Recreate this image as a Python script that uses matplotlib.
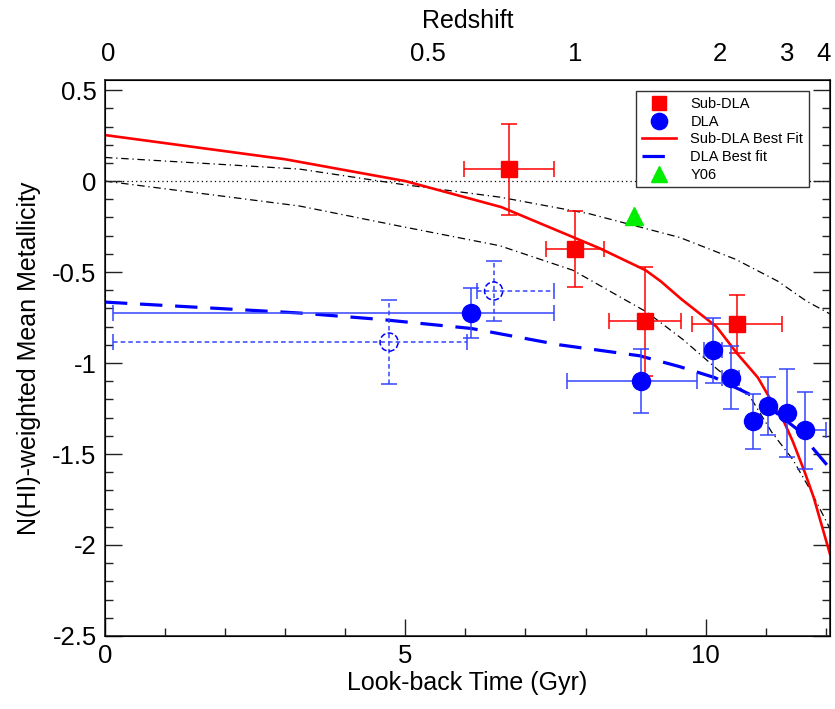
import matplotlib
matplotlib.use("Agg")
import matplotlib.pyplot as plt
from matplotlib.ticker import MultipleLocator, FuncFormatter

plt.rcParams['font.family'] = ['Liberation Sans', 'DejaVu Sans']
plt.rcParams['axes.unicode_minus'] = False

# Sub-DLA measurements (look-back time in Gyr, metallicity)
subdla_t = [6.72, 7.82, 8.99, 10.52]
subdla_z = [0.066, -0.374, -0.77, -0.786]
subdla_terr = [0.75, 0.48, 0.60, 0.75]
subdla_zerr = [0.25, 0.21, 0.30, 0.16]

# DLA measurements (solid symbols), asymmetric time errors
dla_t = [6.09, 8.92, 10.13, 10.42, 10.78, 11.03, 11.36, 11.66]
dla_z = [-0.725, -1.10, -0.93, -1.08, -1.32, -1.235, -1.275, -1.37]
dla_terr_lo = [5.96, 1.22, 0.15, 0.15, 0.0, 0.0, 0.0, 0.0]
dla_terr_hi = [1.38, 0.93, 0.15, 0.14, 0.0, 0.0, 0.0, 0.35]
dla_zerr = [0.14, 0.175, 0.18, 0.175, 0.15, 0.16, 0.24, 0.21]

# DLA measurements at low redshift (open, dashed symbols)
dla_low_t = [4.73, 6.47]
dla_low_z = [-0.885, -0.604]
dla_low_terr_lo = [4.60, 0.28]
dla_low_terr_hi = [1.29, 1.00]
dla_low_zerr = [0.23, 0.165]

# Y06 point
y06_t = [8.80]
y06_z = [-0.19]

# best fit curves
subdla_fit_t = [0, 3.0, 5.0, 6.6, 8.24, 9.0, 9.25, 9.6, 10.18, 10.53, 10.87,
                11.15, 11.3, 11.45, 11.65, 11.8, 12.07]
subdla_fit_z = [0.253, 0.12, 0.0, -0.143, -0.37, -0.49, -0.55, -0.65, -0.80,
                -0.95, -1.08, -1.24, -1.32, -1.43, -1.60, -1.74, -2.05]
dla_fit_t = [0, 3.24, 4.58, 6.1, 7.57, 8.9, 9.57, 10.15, 10.85, 11.51, 12.07]
dla_fit_z = [-0.665, -0.725, -0.76, -0.81, -0.90, -0.96, -1.02, -1.08, -1.19,
             -1.36, -1.58]

# model envelopes (dash-dot)
upper_t = [0, 3.24, 4.9, 6.57, 8.07, 9.57, 10.5, 11.2, 11.68, 12.07]
upper_z = [0.13, 0.066, -0.016, -0.088, -0.18, -0.31, -0.43, -0.55, -0.66, -0.73]
lower_t = [0, 3.24, 4.9, 6.57, 7.79, 9.02, 9.62, 10.18, 10.73, 11.1, 11.45,
           11.73, 12.07]
lower_z = [0, -0.137, -0.247, -0.355, -0.49, -0.72, -0.87, -1.03, -1.18, -1.38,
           -1.53, -1.69, -1.91]
solar_level = 0.0

# top axis: redshift labels at their look-back times
z_labels = ['0', '0.5', '1', '2', '3', '4']
z_pos = [0.05, 5.37, 7.82, 10.23, 11.35, 11.96]

fig = plt.figure(figsize=(8.35, 7.09), dpi=100)
ax = fig.add_axes([0.1257, 0.103, 0.8683, 0.784])

red = '#ff0000'
blue = '#0000ff'
eb_blue = '#3344ff'

ax.axhline(solar_level, color='black', lw=0.9, ls=(0, (1, 2.5)), zorder=1)
ax.plot(upper_t, upper_z, color='black', lw=0.9, ls=(0, (6, 3, 1, 3)), zorder=1)
ax.plot(lower_t, lower_z, color='black', lw=0.9, ls=(0, (6, 3, 1, 3)), zorder=1)

fit_sub, = ax.plot(subdla_fit_t, subdla_fit_z, color=red, lw=1.9, zorder=2,
                   label='Sub-DLA Best Fit')
fit_dla, = ax.plot(dla_fit_t, dla_fit_z, color=blue, lw=2.3, ls=(0, (7, 4)),
                   zorder=2, label='DLA Best fit')

# error bars
ax.errorbar(subdla_t, subdla_z, xerr=subdla_terr, yerr=subdla_zerr, fmt='none',
            ecolor=red, elinewidth=1.1, capsize=6, capthick=1.1, zorder=3)
ax.errorbar(dla_t, dla_z, xerr=[dla_terr_lo, dla_terr_hi], yerr=dla_zerr,
            fmt='none', ecolor=eb_blue, elinewidth=1.1, capsize=6, capthick=1.1,
            zorder=3)
eb = ax.errorbar(dla_low_t, dla_low_z, xerr=[dla_low_terr_lo, dla_low_terr_hi],
                 yerr=dla_low_zerr, fmt='none', ecolor=eb_blue, elinewidth=1.1,
                 capsize=6, capthick=1.1, zorder=3)
for lc in eb[2]:
    lc.set_linestyle((0, (3, 2)))

# markers
h_sub, = ax.plot(subdla_t, subdla_z, 's', color=red, ms=11.5, zorder=4,
                 label='Sub-DLA')
h_dla, = ax.plot(dla_t, dla_z, 'o', color=blue, ms=13, zorder=4, label='DLA')
ax.scatter(dla_low_t, dla_low_z, s=170, facecolors='none', edgecolors=blue,
           linewidths=1.1, linestyles='--', zorder=4)
h_y06, = ax.plot(y06_t, y06_z, '^', color='#00ee00', ms=13, zorder=4,
                 label='Y06')

ax.set_xlim(0, 12.07)
ax.set_ylim(-2.5, 0.555)
ax.xaxis.set_major_locator(MultipleLocator(5))
ax.xaxis.set_minor_locator(MultipleLocator(1))
ax.yaxis.set_major_locator(MultipleLocator(0.5))
ax.yaxis.set_minor_locator(MultipleLocator(0.1))
ax.yaxis.set_major_formatter(FuncFormatter(lambda v, p: '%g' % v))
ax.tick_params(which='both', direction='in', top=False, right=True,
               labelsize=18.5, color='#222222')
ax.tick_params(which='major', length=12, width=1.0, pad=6)
ax.tick_params(which='minor', length=6, width=1.0)
for s in ax.spines.values():
    s.set_linewidth(1.2)
    s.set_color('#222222')

ax.set_xlabel('Look-back Time (Gyr)', fontsize=18, labelpad=2)
ax.set_ylabel('N(HI)-weighted Mean Metallicity', fontsize=18, labelpad=8)

top = ax.twiny()
top.set_xlim(ax.get_xlim())
top.set_xticks(z_pos)
top.set_xticklabels(z_labels)
top.tick_params(axis='x', length=0, labelsize=18.5, pad=10)
top.set_xlabel('Redshift', fontsize=18, labelpad=10)

leg = ax.legend(handles=[h_sub, h_dla, fit_sub, fit_dla, h_y06],
                loc='upper right', bbox_to_anchor=(0.971, 0.98),
                borderaxespad=0, fontsize=10.5, frameon=True, fancybox=False,
                framealpha=1, edgecolor='#333333', handlelength=2.3,
                handletextpad=1.0, labelspacing=0.25, borderpad=0.4,
                markerscale=0.9)
leg.get_frame().set_linewidth(1.0)

fig.savefig('out.png', dpi=100)
